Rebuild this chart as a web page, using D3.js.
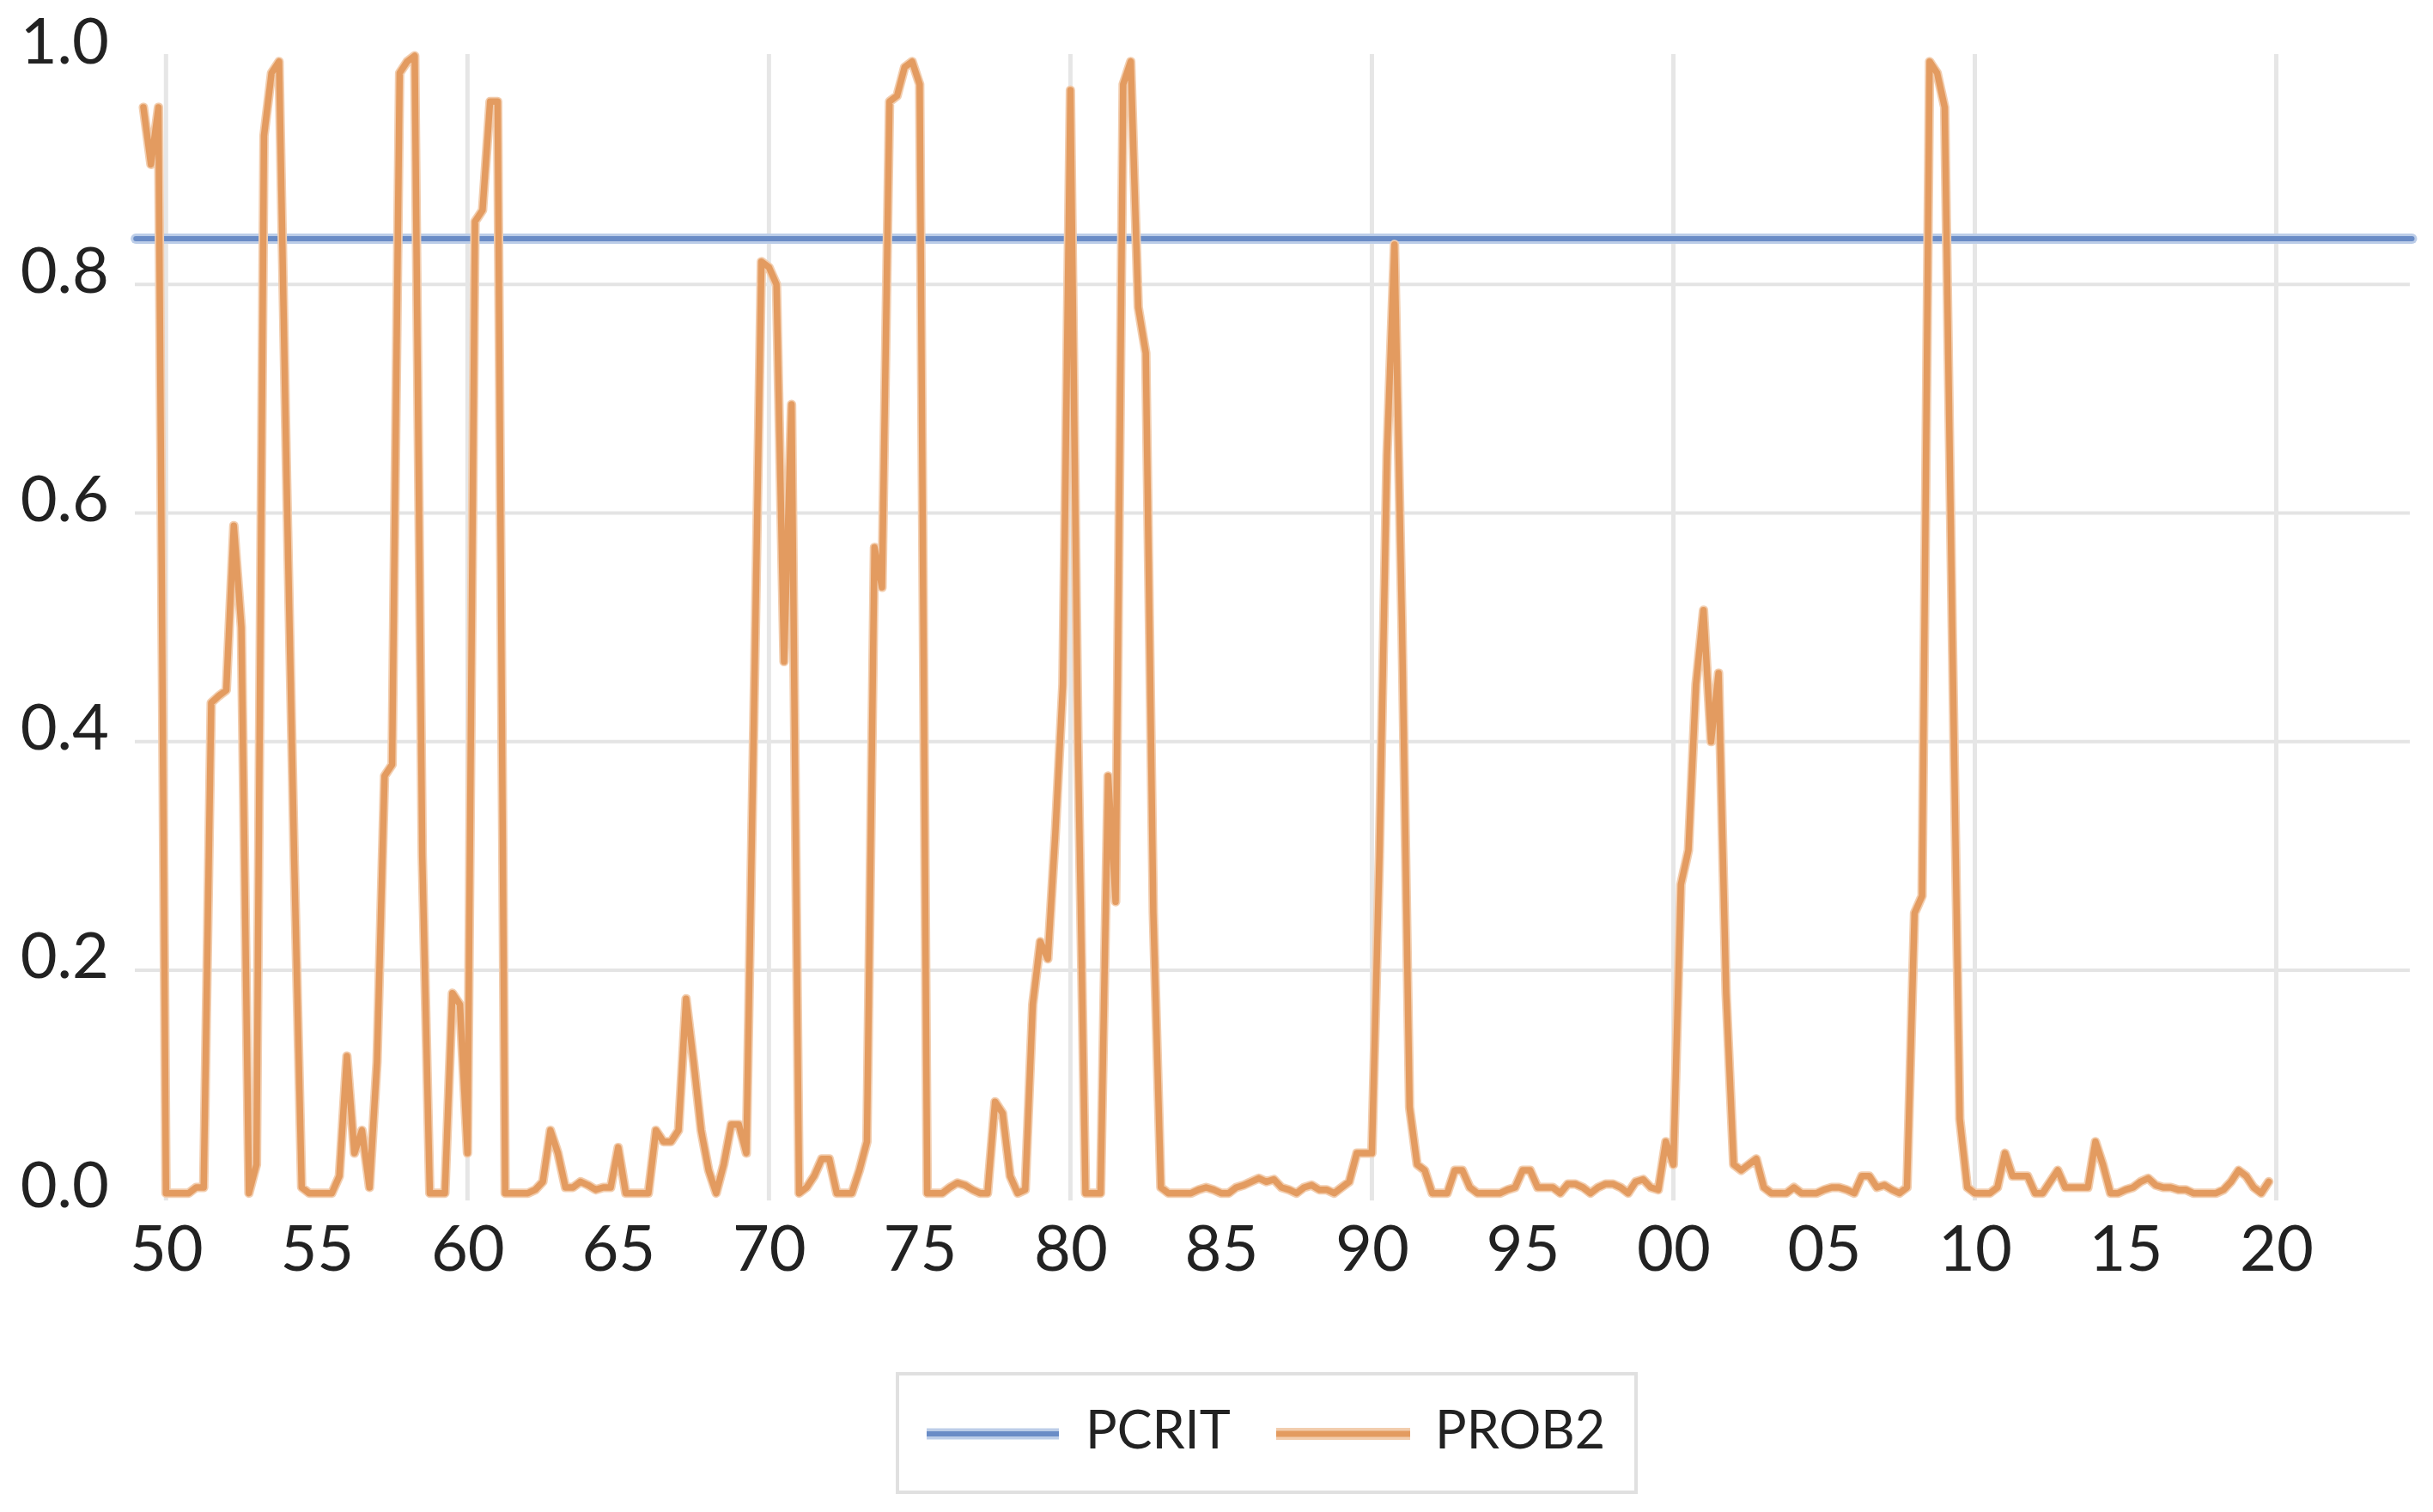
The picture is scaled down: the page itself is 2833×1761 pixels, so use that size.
<!DOCTYPE html>
<html><head><meta charset="utf-8">
<script src="https://cdn.jsdelivr.net/npm/d3@7"></script>
<style>html,body{margin:0;padding:0;background:#fff;} svg{display:block;}</style>
</head><body>
<svg id="chart" width="2833" height="1761"></svg>
<script>
// ---------- data ----------
const START_YEAR = 1949;          // category 0 = 1949Q1 (quarterly categories)
const CATEGORY_COUNT = 303;       // 1949Q1 .. 2024Q3
const PROB2_START = 1;            // PROB2 begins at 1949Q2

// PROB2, quarterly, 1949Q2 .. 2019Q4
const prob2 = [
  0.955,0.905,0.955,                               // 1949 Q2-Q4
  0.005,0.005,0.005,0.005,                         // 1950
  0.01,0.01,0.434,0.44,                            // 1951
  0.445,0.589,0.5,0.005,                           // 1952
  0.03,0.93,0.985,0.995,                           // 1953
  0.63,0.3,0.01,0.005,                             // 1954
  0.005,0.005,0.005,0.02,                          // 1955
  0.125,0.04,0.06,0.01,                            // 1956
  0.12,0.37,0.38,0.985,                            // 1957
  0.995,1.0,0.3,0.005,                             // 1958
  0.005,0.005,0.18,0.17,                           // 1959
  0.04,0.855,0.865,0.96,                           // 1960
  0.96,0.005,0.005,0.005,                          // 1961
  0.005,0.008,0.015,0.06,                          // 1962
  0.04,0.01,0.01,0.015,                            // 1963
  0.012,0.008,0.01,0.01,                           // 1964
  0.045,0.005,0.005,0.005,                         // 1965
  0.005,0.06,0.05,0.05,                            // 1966
  0.06,0.175,0.12,0.06,                            // 1967
  0.025,0.005,0.03,0.065,                          // 1968
  0.065,0.04,0.42,0.82,                            // 1969
  0.815,0.80,0.47,0.695,                           // 1970
  0.005,0.01,0.02,0.035,                           // 1971
  0.035,0.005,0.005,0.005,                         // 1972
  0.025,0.05,0.57,0.535,                           // 1973
  0.96,0.965,0.99,0.995,                           // 1974
  0.975,0.005,0.005,0.005,                         // 1975
  0.01,0.014,0.012,0.008,                          // 1976
  0.005,0.005,0.085,0.075,                         // 1977
  0.02,0.005,0.008,0.17,                           // 1978
  0.225,0.21,0.32,0.45,                            // 1979
  0.97,0.4,0.005,0.005,                            // 1980
  0.005,0.37,0.26,0.975,                           // 1981
  0.995,0.78,0.74,0.25,                            // 1982
  0.01,0.005,0.005,0.005,                          // 1983
  0.005,0.008,0.01,0.008,                          // 1984
  0.005,0.005,0.01,0.012,                          // 1985
  0.015,0.018,0.015,0.017,                         // 1986
  0.01,0.008,0.005,0.01,                           // 1987
  0.012,0.008,0.008,0.005,                         // 1988
  0.01,0.015,0.04,0.04,                            // 1989
  0.04,0.3,0.65,0.835,                             // 1990
  0.5,0.08,0.03,0.025,                             // 1991
  0.005,0.005,0.005,0.025,                         // 1992
  0.025,0.01,0.005,0.005,                          // 1993
  0.005,0.005,0.008,0.01,                          // 1994
  0.025,0.025,0.01,0.01,                           // 1995
  0.01,0.005,0.013,0.013,                          // 1996
  0.01,0.005,0.01,0.013,                           // 1997
  0.013,0.01,0.005,0.015,                          // 1998
  0.017,0.01,0.008,0.05,                           // 1999
  0.03,0.275,0.305,0.45,                           // 2000
  0.515,0.40,0.46,0.18,                            // 2001
  0.03,0.025,0.03,0.035,                           // 2002
  0.01,0.005,0.005,0.005,                          // 2003
  0.01,0.005,0.005,0.005,                          // 2004
  0.008,0.01,0.01,0.008,                           // 2005
  0.005,0.02,0.02,0.01,                            // 2006
  0.012,0.008,0.005,0.01,                          // 2007
  0.25,0.265,0.995,0.985,                          // 2008
  0.955,0.5,0.07,0.01,                             // 2009
  0.005,0.005,0.005,0.01,                          // 2010
  0.04,0.02,0.02,0.02,                             // 2011
  0.005,0.005,0.015,0.025,                         // 2012
  0.01,0.01,0.01,0.01,                             // 2013
  0.05,0.03,0.005,0.005,                           // 2014
  0.008,0.01,0.015,0.018,                          // 2015
  0.012,0.01,0.01,0.008,                           // 2016
  0.008,0.005,0.005,0.005,                         // 2017
  0.005,0.008,0.015,0.025,                         // 2018
  0.02,0.01,0.005,0.015                            // 2019
];

const pcritValue = 0.84;          // PCRIT is constant over all categories

const xTickYears  = [1950,1955,1960,1965,1970,1975,1980,1985,1990,1995,2000,2005,2010,2015,2020];
const xTickLabels = ["50","55","60","65","70","75","80","85","90","95","00","05","10","15","20"];
const xGridYears  = [1950,1960,1970,1980,1990,2000,2010,2020];
const yTicks      = [0,0.2,0.4,0.6,0.8,1.0];
const yTickLabels = ["0.0","0.2","0.4","0.6","0.8","1.0"];
const yGridValues = [0.2,0.4,0.6,0.8];
const seriesNames = ["PCRIT","PROB2"];

// ---------- drawing ----------
const svg = d3.select("#chart");
const plot = {left:157, right:2806, top:65, bottom:1396.3};
const x = d3.scaleLinear().domain([0, CATEGORY_COUNT-1]).range([158.2, 2808.5]);
const y = d3.scaleLinear().domain([0,1]).range([plot.bottom, plot.top]);
const yearIndex = yr => (yr - START_YEAR) * 4;

const FONT = "Lato, 'Open Sans', sans-serif";
const TEXT = "#222";

// horizontal gridlines
svg.append("g").selectAll("line").data(yGridValues).join("line")
  .attr("x1", plot.left).attr("x2", plot.right)
  .attr("y1", d => y(d)).attr("y2", d => y(d))
  .attr("stroke", "#e4e4e4").attr("stroke-width", 4);

// vertical gridlines
svg.append("g").selectAll("line").data(xGridYears).join("line")
  .attr("x1", d => x(yearIndex(d))).attr("x2", d => x(yearIndex(d)))
  .attr("y1", plot.top - 2).attr("y2", plot.bottom + 2)
  .attr("stroke", "#e6e6e6").attr("stroke-width", 5);

// series
const pcritData = d3.range(CATEGORY_COUNT).map(i => ({i, v: pcritValue}));
const prob2Data = prob2.map((v, k) => ({i: k + PROB2_START, v}));
const line = d3.line().x(d => x(d.i)).y(d => y(d.v));

const colors = {PCRIT: {core:"#6a8cc6", halo:"#bccde8"}, PROB2: {core:"#e39b60", halo:"#f2cdae"}};

function drawSeries(data, c, coreW, haloW) {
  svg.append("path").datum(data).attr("d", line).attr("fill","none")
    .attr("stroke", c.halo).attr("stroke-width", haloW).attr("stroke-linejoin","round").attr("stroke-linecap","round");
  svg.append("path").datum(data).attr("d", line).attr("fill","none")
    .attr("stroke", c.core).attr("stroke-width", coreW).attr("stroke-linejoin","round").attr("stroke-linecap","round");
}
drawSeries(pcritData, colors.PCRIT, 6, 12);
drawSeries(prob2Data, colors.PROB2, 7.5, 11);

// y axis labels
const yAxis = svg.append("g").attr("transform", `translate(127,0)`)
  .call(d3.axisLeft(y).tickValues(yTicks).tickFormat((d,i) => yTickLabels[i]).tickSize(0).tickPadding(0));
yAxis.select(".domain").remove();
yAxis.selectAll("text").attr("dy", "0.12em").attr("x", 0)
  .style("font-family", FONT).style("font-size", "74px").attr("fill", TEXT);

// x axis labels
const xAxis = svg.append("g").attr("transform", `translate(0,1480)`)
  .call(d3.axisBottom(x).tickValues(xTickYears.map(yearIndex)).tickFormat((d,i) => xTickLabels[i]).tickSize(0).tickPadding(0));
xAxis.select(".domain").remove();
xAxis.selectAll("text").attr("y", 0).attr("dy", 0)
  .style("font-family", FONT).style("font-size", "74px").attr("fill", TEXT);

// legend
const lg = svg.append("g");
lg.append("rect").attr("x", 1045).attr("y", 1600).attr("width", 860).attr("height", 138)
  .attr("fill", "#fff").attr("stroke", "#e0e0e0").attr("stroke-width", 4);
const legendItems = [
  {name: seriesNames[0], c: colors.PCRIT, x0: 1079, x1: 1233, tx: 1264, w: 6, hw: 13},
  {name: seriesNames[1], c: colors.PROB2, x0: 1486, x1: 1642, tx: 1671, w: 7, hw: 14}
];
legendItems.forEach(it => {
  lg.append("line").attr("x1", it.x0).attr("x2", it.x1).attr("y1", 1670).attr("y2", 1670)
    .attr("stroke", it.c.halo).attr("stroke-width", it.hw);
  lg.append("line").attr("x1", it.x0).attr("x2", it.x1).attr("y1", 1670).attr("y2", 1670)
    .attr("stroke", it.c.core).attr("stroke-width", it.w);
  lg.append("text").attr("x", it.tx).attr("y", 1687).text(it.name)
    .style("font-family", FONT).style("font-size", "61px").attr("fill", TEXT);
});
</script>
</body></html>
